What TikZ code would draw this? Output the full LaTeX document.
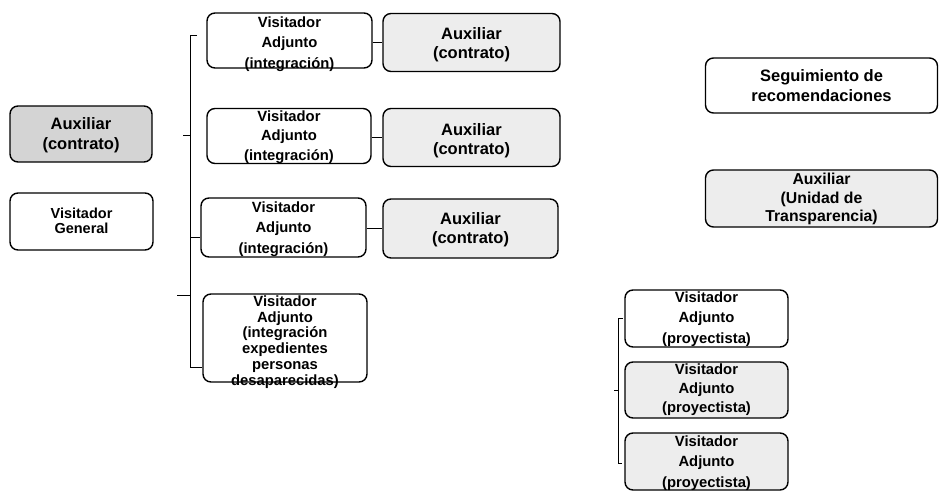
\documentclass[tikz,border=0pt]{standalone}
\usepackage{fontspec}
\setmainfont{Liberation Sans}
\newcommand\myfs[2]{\fontsize{#1}{#2}\selectfont}
\begin{document}
\begin{tikzpicture}[x=1pt,y=-1pt]
\tikzset{
 box/.style={draw=black, line width=1.4pt, rounded corners=8pt, inner sep=0pt, fill=white},
 grayfill/.style={fill=black!7},
 darkfill/.style={fill=black!17},
 lbl/.style={inner sep=0pt, align=center, font=\bfseries\myfs{16.5}{19}},
 valbl/.style={inner sep=0pt, align=center, font=\bfseries\myfs{14.8}{20.5}},
 link/.style={draw=black, line width=0.7pt},
}
\useasboundingbox (0,0) rectangle (940,498);

% left column
\node[box,darkfill,minimum width=142pt,minimum height=56pt] (auxL) at (81,134) {};
\node[lbl,font=\bfseries\myfs{16.5}{20}] (auxLt) at (81,135) {Auxiliar\\(contrato)};
\node[box,minimum width=143pt,minimum height=57pt] (vg) at (81.5,221.5) {};
\node[lbl,font=\bfseries\myfs{14.5}{15.5}] (vgt) at (81.5,221) {Visitador\\General};

% visitadores adjuntos (integracion)
\node[box,minimum width=165pt,minimum height=55pt] (va1) at (289.5,40.5) {};
\node[valbl] (va1t) at (289.5,44) {Visitador\\Adjunto\\(integración)};
\node[box,minimum width=164pt,minimum height=55pt] (va2) at (289,136) {};
\node[valbl,font=\bfseries\myfs{14.8}{19.5}] (va2t) at (289,137) {Visitador\\Adjunto\\(integración)};
\node[box,minimum width=165pt,minimum height=59pt] (va3) at (283.5,227.5) {};
\node[valbl] (va3t) at (283.5,229) {Visitador\\Adjunto\\(integración)};
\node[box,minimum width=164pt,minimum height=88pt] (va4) at (285,338) {};
\node[valbl,font=\bfseries\myfs{14.8}{15.8}] (va4t) at (285,342) {Visitador\\Adjunto\\(integración\\expedientes\\personas\\desaparecidas)};

% auxiliares (contrato)
\node[box,grayfill,minimum width=177pt,minimum height=58pt] (ax1) at (471.5,42.5) {};
\node[lbl] (ax1t) at (471.5,45) {Auxiliar\\(contrato)};
\node[box,grayfill,minimum width=177pt,minimum height=58pt] (ax2) at (471.5,137.5) {};
\node[lbl] (ax2t) at (471.5,141) {Auxiliar\\(contrato)};
\node[box,grayfill,minimum width=175pt,minimum height=59pt] (ax3) at (470.5,228.5) {};
\node[lbl] (ax3t) at (470.5,230) {Auxiliar\\(contrato)};

% right column
\node[box,minimum width=232pt,minimum height=55pt] (seg) at (821.5,85.5) {};
\node[lbl,font=\bfseries\myfs{16.5}{20}] (segt) at (821.5,85.5) {Seguimiento de\\recomendaciones};
\node[box,grayfill,minimum width=232pt,minimum height=57pt] (aut) at (821.5,198.5) {};
\node[lbl,font=\bfseries\myfs{15.8}{18.5}] (autt) at (821.5,199) {Auxiliar\\(Unidad de\\Transparencia)};

% proyectistas
\node[box,minimum width=163pt,minimum height=57pt] (p1) at (706.5,318.5) {};
\node[valbl] (p1t) at (706.5,319) {Visitador\\Adjunto\\(proyectista)};
\node[box,grayfill,minimum width=163pt,minimum height=56pt] (p2) at (706.5,390) {};
\node[valbl,font=\bfseries\myfs{14.8}{19}] (p2t) at (706.5,390) {Visitador\\Adjunto\\(proyectista)};
\node[box,grayfill,minimum width=163pt,minimum height=57pt] (p3) at (706.5,461.5) {};
\node[valbl] (p3t) at (706.5,463) {Visitador\\Adjunto\\(proyectista)};

% links VA -> Auxiliar
\draw[link] (va1.east |- 0,42) -- (ax1.west |- 0,42);
\draw[link] (va2.east |- 0,137) -- (ax2.west |- 0,137);
\draw[link] (va3.east |- 0,228) -- (ax3.west |- 0,228);

% bracket 1
\coordinate (b1top) at (190,35);
\coordinate (b1topr) at (197,35);
\coordinate (b1bot) at (190,367);
\coordinate (b1l1) at (190,135);
\coordinate (b1l1e) at (183,135);
\coordinate (b1r3) at (190,237);
\coordinate (b1l2) at (190,295);
\coordinate (b1l2e) at (177,295);
\draw[link] (b1topr) -- (b1top) -- (b1bot) -- (b1bot -| va4.west);
\draw[link] (b1l1) -- (b1l1e);
\draw[link] (b1r3) -- (b1r3 -| va3.west);
\draw[link] (b1l2) -- (b1l2e);

% bracket 2
\coordinate (b2top) at (618,318);
\coordinate (b2topr) at (623,318);
\coordinate (b2bot) at (618,463);
\coordinate (b2botr) at (622,463);
\coordinate (b2mid) at (618,390);
\coordinate (b2mide) at (614,390);
\draw[link] (b2topr) -- (b2top) -- (b2bot) -- (b2botr);
\draw[link] (b2mid) -- (b2mide);
\end{tikzpicture}
\end{document}
